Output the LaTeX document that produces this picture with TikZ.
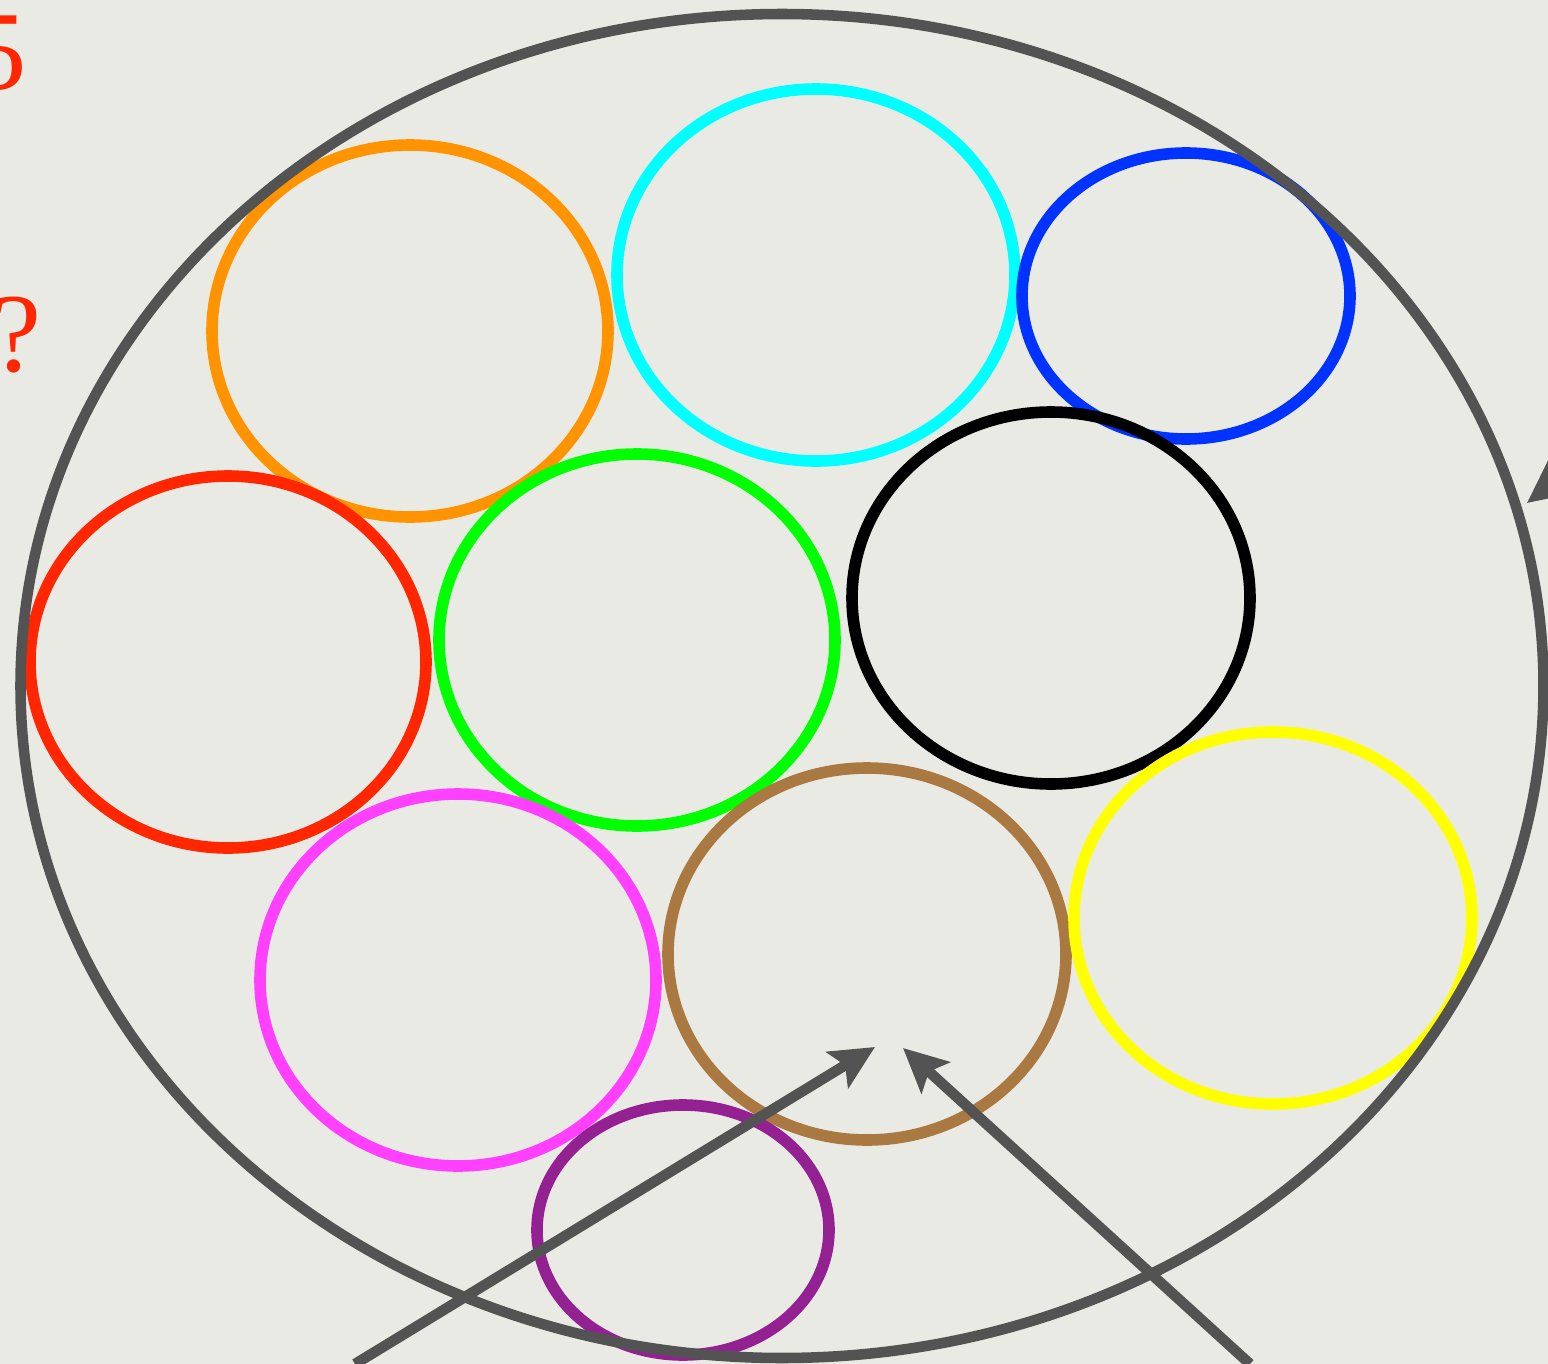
\documentclass[tikz,border=0pt]{standalone}
\usepackage{fontspec}
\setmainfont{Liberation Serif}
\usetikzlibrary{shapes.geometric, arrows.meta}

\definecolor{fondo}{RGB}{234,234,229}
\definecolor{gris}{RGB}{83,83,83}
\definecolor{rojo}{RGB}{255,38,0}
\definecolor{naranja}{RGB}{255,148,0}
\definecolor{celeste}{RGB}{0,255,255}
\definecolor{azul}{RGB}{0,51,255}
\definecolor{verde}{RGB}{0,255,0}
\definecolor{rosa}{RGB}{255,64,255}
\definecolor{marron}{RGB}{170,121,66}
\definecolor{amarillo}{RGB}{255,255,0}
\definecolor{morado}{RGB}{148,33,146}

\begin{document}
\begin{tikzpicture}[x=0.1mm, y=-0.1mm,
    anillo/.style={ellipse, draw, line width=3.3pt, inner sep=0pt},
    flecha/.style={draw=gris, line width=3pt,
        -{Stealth[length=4.4mm, width=4.2mm, inset=0.9mm]}},
    rotulo/.style={text=rojo, inner sep=0pt, font=\fontsize{32}{38}\selectfont}]

    \useasboundingbox (0,0) rectangle (1548,1364);
    \clip (0,0) rectangle (1548,1364);
    \fill[fondo] (0,0) rectangle (1548,1364);

    % texto cortado a la izquierda
    \node[rotulo, anchor=base east] (cifra) at (27,90) {5};
    \node[rotulo, anchor=base east] (pregunta) at (42,371) {?};

    % conjuntos: nombre / color / centro / ancho / alto
    \foreach \nombre/\col/\cx/\cy/\an/\al in {
        naranjo/naranja/410/331/39.6/37.2,
        cielo/celeste/816/275/39.8/37.2,
        mar/azul/1186/296/32.8/28.6,
        fuego/rojo/228/662/39.6/37.2,
        hoja/verde/637/640/39.6/37.2,
        noche/black/1051/598/39.8/37.2,
        flor/rosa/458/980/39.6/37.2,
        tierra/marron/867/954/39.8/37.2,
        sol/amarillo/1273/918/39.8/37.2,
        uva/morado/683/1230/29.2/25.0}
        \node[anillo, draw=\col, minimum width=\an mm, minimum height=\al mm]
            (\nombre) at (\cx,\cy) {};

    % el conjunto grande
    \node[ellipse, draw=gris, line width=3pt, inner sep=0pt,
        minimum width=152.3mm, minimum height=134.4mm] (todo) at (782,686) {};

    % flechas
    \coordinate (desde1) at (355,1364);
    \coordinate (hasta1) at (875,1047);
    \coordinate (desde2) at (1250,1364);
    \coordinate (hasta2) at (903,1048);
    \coordinate (desde3) at (1607,441);
    \coordinate (hasta3) at (1527,503);
    \draw[flecha] (desde1) -- (hasta1);
    \draw[flecha] (desde2) -- (hasta2);
    \draw[flecha] (desde3) -- (hasta3);

\end{tikzpicture}
\end{document}
